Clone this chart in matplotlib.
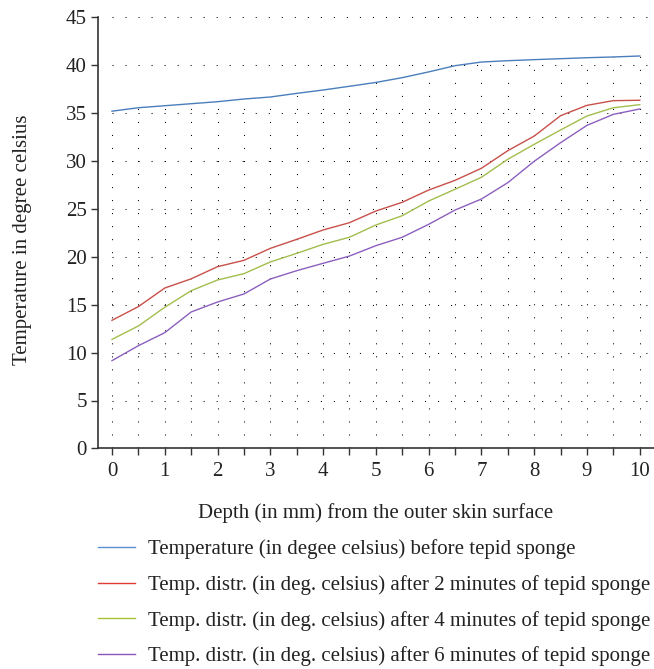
import matplotlib
matplotlib.use("Agg")
import matplotlib.pyplot as plt
import numpy as np
from matplotlib.ticker import FixedLocator, FuncFormatter
from matplotlib.lines import Line2D

plt.rcParams['font.family'] = ['Liberation Serif', 'DejaVu Serif']

depth = [0, 0.5, 1, 1.5, 2, 2.5, 3, 3.5, 4, 4.5, 5, 5.5, 6, 6.5, 7, 7.5, 8, 8.5, 9, 9.5, 10]
before = [35.2, 35.56, 35.77, 35.98, 36.19, 36.47, 36.68, 37.06, 37.41, 37.8, 38.2,
          38.7, 39.3, 39.95, 40.33, 40.47, 40.58, 40.68, 40.78, 40.86, 40.96]
after2 = [13.37, 14.8, 16.74, 17.7, 18.97, 19.63, 20.88, 21.82, 22.8, 23.56, 24.78,
          25.69, 26.97, 27.98, 29.24, 31.08, 32.6, 34.73, 35.81, 36.3, 36.34]
after4 = [11.38, 12.78, 14.73, 16.46, 17.58, 18.24, 19.46, 20.36, 21.3, 22.04, 23.32,
          24.29, 25.82, 27.05, 28.3, 30.18, 31.74, 33.24, 34.7, 35.56, 35.88]
after6 = [9.16, 10.72, 12.08, 14.24, 15.28, 16.12, 17.68, 18.55, 19.32, 20.08, 21.16,
          22.04, 23.39, 24.88, 26.03, 27.74, 29.97, 31.91, 33.72, 34.87, 35.43]

labels = ["Temperature (in degee celsius) before tepid sponge",
          "Temp. distr. (in deg. celsius) after 2 minutes of tepid sponge",
          "Temp. distr. (in deg. celsius) after 4 minutes of tepid sponge",
          "Temp. distr. (in deg. celsius) after 6 minutes of tepid sponge"]
line_colors = ["#4A7EBB", "#C8504A", "#A2BD4C", "#8C5FBE"]
legend_colors = ["#5B8FCF", "#E03A32", "#A8C236", "#8A55B8"]
yticks = list(range(0, 50, 5))

FS = 15
W, H = 654, 669
fig = plt.figure(figsize=(W / 100, H / 100), dpi=100)
ax = fig.add_axes([98 / W, (H - 448.4) / H, (654 - 98) / W, (448.4 - 17.3) / H])

xmin, xmax = -0.265, 10.27
ax.set_xlim(xmin, xmax)
ax.set_ylim(0, 45)

dot = (0, (1, 11.5))
# horizontal dotted grid
ax.hlines(yticks[1:], 0, xmax, colors='black', linestyles=[dot], linewidth=0.75, zorder=1)
# vertical dotted drop lines from the "before" curve
ax.vlines(depth, 0, before, colors='black', linestyles=[dot], linewidth=0.75, zorder=1)

series = [before, after2, after4, after6]
for s, c in zip(series, line_colors):
    ax.plot(depth, s, color=c, linewidth=1.0, zorder=3)

for sp in ['top', 'right']:
    ax.spines[sp].set_visible(False)
for sp in ['left', 'bottom']:
    ax.spines[sp].set_color('#333333')
    ax.spines[sp].set_linewidth(1.2)

ax.xaxis.set_major_locator(FixedLocator(depth))
ax.xaxis.set_major_formatter(FuncFormatter(lambda v, p: f"{int(round(v))}" if abs(v - round(v)) < 1e-6 else ""))
ax.set_yticks(yticks)
ax.tick_params(axis='both', direction='out', length=5, width=1.0, color='#333333',
               labelsize=FS, labelcolor='#222222')
ax.tick_params(axis='x', pad=5)
ax.tick_params(axis='y', pad=3)

ax.set_xlabel("Depth (in mm) from the outer skin surface", fontsize=FS, color='#222222')
ax.xaxis.set_label_coords(0.5, -0.128)
ax.set_ylabel("Temperature in degree celsius", fontsize=FS, color='#222222')
ax.yaxis.set_label_coords(-(98 - 32) / (654 - 98), 0.483)

handles = [Line2D([], [], color=c, linewidth=1.0) for c in legend_colors]
leg = fig.legend(handles=handles, labels=labels, loc='upper left',
                 bbox_to_anchor=(92 / W, (H - 533) / H), frameon=False,
                 fontsize=FS, handlelength=1.78, handletextpad=0.62,
                 labelspacing=0.76, borderaxespad=0, borderpad=0.3)
for t in leg.get_texts():
    t.set_color('#222222')

fig.savefig("out.png", dpi=100)
